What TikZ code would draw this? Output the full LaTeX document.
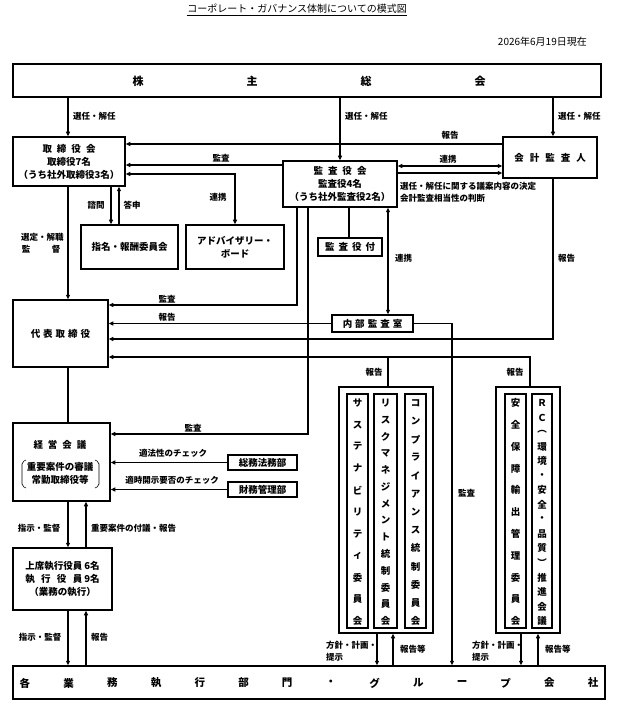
\documentclass[tikz,border=0pt]{standalone}
\usepackage{fontspec}
\usepackage{calc}
\setmainfont{Noto Sans CJK JP}
\usetikzlibrary{arrows.meta}
\newcommand\mybox[7][]{\node[box,#1,minimum width={#5-#3},minimum height={#6-#4}] (#2) at ({(#3+#5)/2},{(#4+#6)/2}) {#7};}
\newcommand\vcol[4]{\foreach \c [count=\i from 0] in {#4} \node[vch] (#1\i) at (#2,{403+\i*218/#3}) {\c};}
\newcommand\myg[1][5pt]{\hspace{#1}}
\begin{document}
\begin{tikzpicture}[x=1pt,y=-1pt,
  box/.style={draw,line width=1.5pt,inner sep=0pt,align=center,font=\fontsize{9.5}{13}\selectfont\bfseries},
  ibox/.style={draw,line width=1.3pt,inner sep=0pt,fill=white},
  lbl/.style={inner sep=0pt,font=\fontsize{8.5}{12}\selectfont\bfseries},
  btxt/.style={inner sep=0pt,font=\fontsize{9.5}{13}\selectfont\bfseries},
  big/.style={inner sep=0pt,font=\fontsize{11}{11}\selectfont\bfseries},
  ln/.style={line width=1.2pt},
  arr/.style={ln,-{Triangle[length=4.5pt,width=4pt]}},
  darr/.style={ln,{Triangle[length=4.5pt,width=4pt]}-{Triangle[length=4.5pt,width=4pt]}},
  vch/.style={inner sep=0pt,font=\fontsize{9.5}{9.5}\selectfont\bfseries},
]
\useasboundingbox (0,0) rectangle (619,708);
% named positions
\foreach \x in {68,86,111,119,235,297,308,340,349,377,388,393,452,521,530,538,553}{\coordinate (X\x) at (\x,0);}
\foreach \y in {144,165,166,173,174,305,323,339,357,434}{\coordinate (Y\y) at (0,\y);}

% title and date
\node[inner sep=0pt,font=\fontsize{10}{12}\selectfont] (title) at (297,10) {\underline{コーポレート・ガバナンス体制についての模式図}};
\node[inner sep=0pt,anchor=east,font=\fontsize{10}{12}\selectfont] (date) at (587,42) {2026年6月19日現在};

% boxes
\mybox{kab}{13}{64}{601}{97}{}
\foreach \t [count=\i from 0] in {株,主,総,会} \node[big] (kt\i) at ({138+\i*114},81) {\t};
\mybox{tori}{13}{137}{125}{186}{取\myg 締\myg 役\myg 会\\取締役7名\\（うち社外取締役3名）}
\mybox{kaikei}{503}{137}{597}{178}{会\myg[6pt]計\myg[6pt]監\myg[6pt]査\myg[6pt]人}
\mybox{kansa}{283}{161}{397}{207}{監\myg 査\myg 役\myg 会\\監査役4名\\（うち社外監査役2名）}
\mybox{shimei}{81}{225}{178}{269}{指名・報酬委員会}
\mybox{adv}{186}{225}{284}{269}{アドバイザリー・\\ボード}
\mybox{kansatsuki}{318}{238}{382}{256}{監\myg[4pt]査\myg[4pt]役\myg[4pt]付}
\mybox{daihyo}{13}{300}{108}{367}{代\myg[3pt]表\myg[3pt]取\myg[3pt]締\myg[3pt]役}
\mybox{naibu}{332}{315}{413}{332}{内\myg[3pt]部\myg[3pt]監\myg[3pt]査\myg[3pt]室}
\mybox{keiei}{13}{423}{110}{501}{}
\node[btxt] (ke1) at (60,445) {経\myg 営\myg 会\myg 議};
\node[btxt] (ke2) at (60,467) {重要案件の審議};
\node[btxt] (ke3) at (60,480) {常勤取締役等};
\draw[line width=0.6pt,rounded corners=2pt] (26,460) -- (22,462) -- (22,486) -- (26,488);
\draw[line width=0.6pt,rounded corners=2pt] (95,460) -- (99,462) -- (99,486) -- (95,488);
\mybox{soumu}{228}{455}{297}{470}{総務法務部}
\mybox{zaimu}{228}{482}{297}{497}{財務管理部}
\mybox{joseki}{13}{548}{112}{610}{上席執行役員 6名\\\makebox[\widthof{上席執行役員}][s]{執\hfill 行\hfill 役\hfill 員}\ 9名\\（業務の執行）}
\mybox{kaku}{13}{666}{605}{699}{}
\foreach \t [count=\i from 0] in {各,業,務,執,行,部,門,・,グ,ル,ー,プ,会,社} \node[big,font=\fontsize{10.5}{10.5}\selectfont\bfseries] (ku\i) at ({25+\i*43.7},683) {\t};

% committee groups
\mybox{gL}{339}{387}{433}{633}{}
\mybox{gR}{496}{387}{560}{633}{}
\node[ibox,minimum width=21,minimum height=234] (cA) at (357.5,511) {};
\node[ibox,minimum width=23,minimum height=234] (cB) at (385.5,511) {};
\node[ibox,minimum width=21,minimum height=234] (cC) at (415.5,511) {};
\node[ibox,minimum width=21,minimum height=234] (cD) at (515.5,511) {};
\node[ibox,minimum width=20,minimum height=234] (cE) at (542,511) {};
\vcol{vA}{357.5}{10}{サ,ス,テ,ナ,ビ,リ,テ,ィ,委,員,会}
\vcol{vB}{385.5}{13}{リ,ス,ク,マ,ネ,ジ,メ,ン,ト,統,制,委,員,会}
\vcol{vC}{415.5}{12}{コ,ン,プ,ラ,イ,ア,ン,ス,統,制,委,員,会}
\vcol{vD}{515.5}{10}{安,全,保,障,輸,出,管,理,委,員,会}
\vcol{vE}{542}{15}{Ｒ,Ｃ,︵,環,境,・,安,全,・,品,質,︶,推,進,会,議}

% connectors from 株主総会
\draw[arr] (kab.south -| X68) -- (tori.north -| X68);
\draw[arr] (kab.south -| X340) -- (kansa.north -| X340);
\draw[arr] (kab.south -| X553) -- (kaikei.north -| X553);
\node[lbl,anchor=west] (l1) at (73,116) {選任・解任};
\node[lbl,anchor=west] (l2) at (345,116) {選任・解任};
\node[lbl,anchor=west] (l3) at (558,116) {選任・解任};

% around 取締役会
\draw[arr] (kaikei.west |- Y144) -- (tori.east |- Y144);
\node[lbl] (l4) at (450,135) {報告};
\draw[arr] (kansa.west |- Y165) -- (tori.east |- Y165);
\node[lbl] (l5) at (221,158) {監査};
\draw[darr] (tori.east |- Y174) -| (adv.north -| X235);
\node[lbl] (l6) at (218,197) {連携};
\draw[arr] (tori.south -| X111) -- (shimei.north -| X111);
\draw[arr] (shimei.north -| X119) -- (tori.south -| X119);
\node[lbl] (l7) at (96,205) {諮問};
\node[lbl] (l8) at (132,205) {答申};
\draw[arr] (tori.south -| X68) -- (daihyo.north -| X68);
\node[lbl,anchor=west] (l9) at (21,237) {選定・解職};
\node[lbl] (l10a) at (26,249) {監};
\node[lbl] (l10b) at (56,249) {督};

% 監査役会 / 会計監査人
\draw[darr] (kansa.east |- Y166) -- (kaikei.west |- Y166);
\node[lbl] (l11) at (448,159) {連携};
\draw[arr] (kansa.east |- Y173) -- (kaikei.west |- Y173);
\node[lbl,anchor=west] (l12) at (400,186) {選任・解任に関する議案内容の決定};
\node[lbl,anchor=west] (l13) at (400,198) {会計監査相当性の判断};
\draw[ln] (kansa.south -| X349) -- (kansatsuki.north -| X349);
\draw[darr] (naibu.north -| X388) -- (kansa.south -| X388);
\node[lbl,anchor=west] (l14) at (395,258) {連携};
\draw[arr] (kaikei.south -| X553) |- (daihyo.east |- Y339);
\node[lbl,anchor=west] (l15) at (558,258) {報告};

% into 代表取締役
\draw[arr] (kansa.south -| X297) |- (daihyo.east |- Y305);
\node[lbl] (l16) at (167,299) {監査};
\draw[arr] (naibu.west) -- (daihyo.east |- naibu.west);
\node[lbl] (l17) at (167,317) {報告};
\draw[arr] (gR.north -| X530) |- (daihyo.east |- Y357);
\draw[ln] (gL.north -| X388) -- (X388 |- Y357);
\node[lbl] (l18) at (374,372) {報告};
\node[lbl] (l19) at (515,372) {報告};
\draw[arr] (naibu.east) -| (kaku.north -| X452);
\node[lbl,anchor=west] (l20) at (458,493) {監査};
\draw[arr] (kansa.south -| X308) |- (keiei.east |- Y434);
\node[lbl] (l21) at (193,428) {監査};

% 経営会議
\draw[ln] (daihyo.south -| X68) -- (keiei.north -| X68);
\draw[arr] (soumu.west) -- (keiei.east |- soumu.west);
\node[lbl] (l22) at (173,453) {適法性のチェック};
\draw[arr] (zaimu.west) -- (keiei.east |- zaimu.west);
\node[lbl] (l23) at (172,480) {適時開示要否のチェック};
\draw[arr] (keiei.south -| X68) -- (joseki.north -| X68);
\draw[arr] (joseki.north -| X86) -- (keiei.south -| X86);
\node[lbl] (l24) at (39,528) {指示・監督};
\node[lbl,anchor=west] (l25) at (91,528) {重要案件の付議・報告};

% to 各業務執行部門
\draw[arr] (joseki.south -| X68) -- (kaku.north -| X68);
\draw[arr] (kaku.north -| X86) -- (joseki.south -| X86);
\node[lbl] (l26) at (40,637) {指示・監督};
\node[lbl,anchor=west] (l27) at (91,637) {報告};
\draw[arr] (gL.south -| X377) -- (kaku.north -| X377);
\draw[arr] (kaku.north -| X393) -- (gL.south -| X393);
\node[lbl,anchor=west,align=left] (l28) at (326,651) {方針・計画・\\提示};
\node[lbl,anchor=west] (l29) at (400,649) {報告等};
\draw[arr] (gR.south -| X521) -- (kaku.north -| X521);
\draw[arr] (kaku.north -| X538) -- (gR.south -| X538);
\node[lbl,anchor=west,align=left] (l30) at (472,651) {方針・計画・\\提示};
\node[lbl,anchor=west] (l31) at (545,649) {報告等};
\end{tikzpicture}
\end{document}
